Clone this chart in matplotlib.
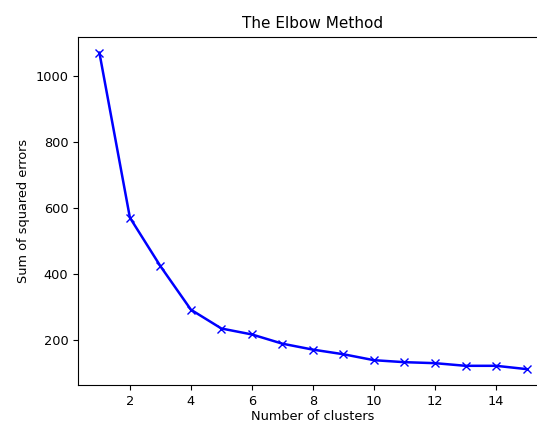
import matplotlib
matplotlib.use('Agg')
import matplotlib.pyplot as plt

# number of clusters and the matching sum of squared errors
clusters = list(range(1, 16))
sse = [1072, 572, 425, 293, 236, 218, 190, 172, 158, 140, 134, 131, 123, 123, 113]

plt.rcParams['font.size'] = 9.3

fig = plt.figure(figsize=(5.37, 4.23), dpi=100)
ax = fig.add_axes([0.1453, 0.09, 0.875, 0.823])

ax.plot(clusters, sse, 'bx-', linewidth=1.8, markersize=6)

ax.set_title('The Elbow Method', fontsize=11)
ax.set_xlabel('Number of clusters', labelpad=2)
ax.set_ylabel('Sum of squared errors')
ax.set_yticks([200, 400, 600, 800, 1000])

fig.savefig('out.png', dpi=100)
